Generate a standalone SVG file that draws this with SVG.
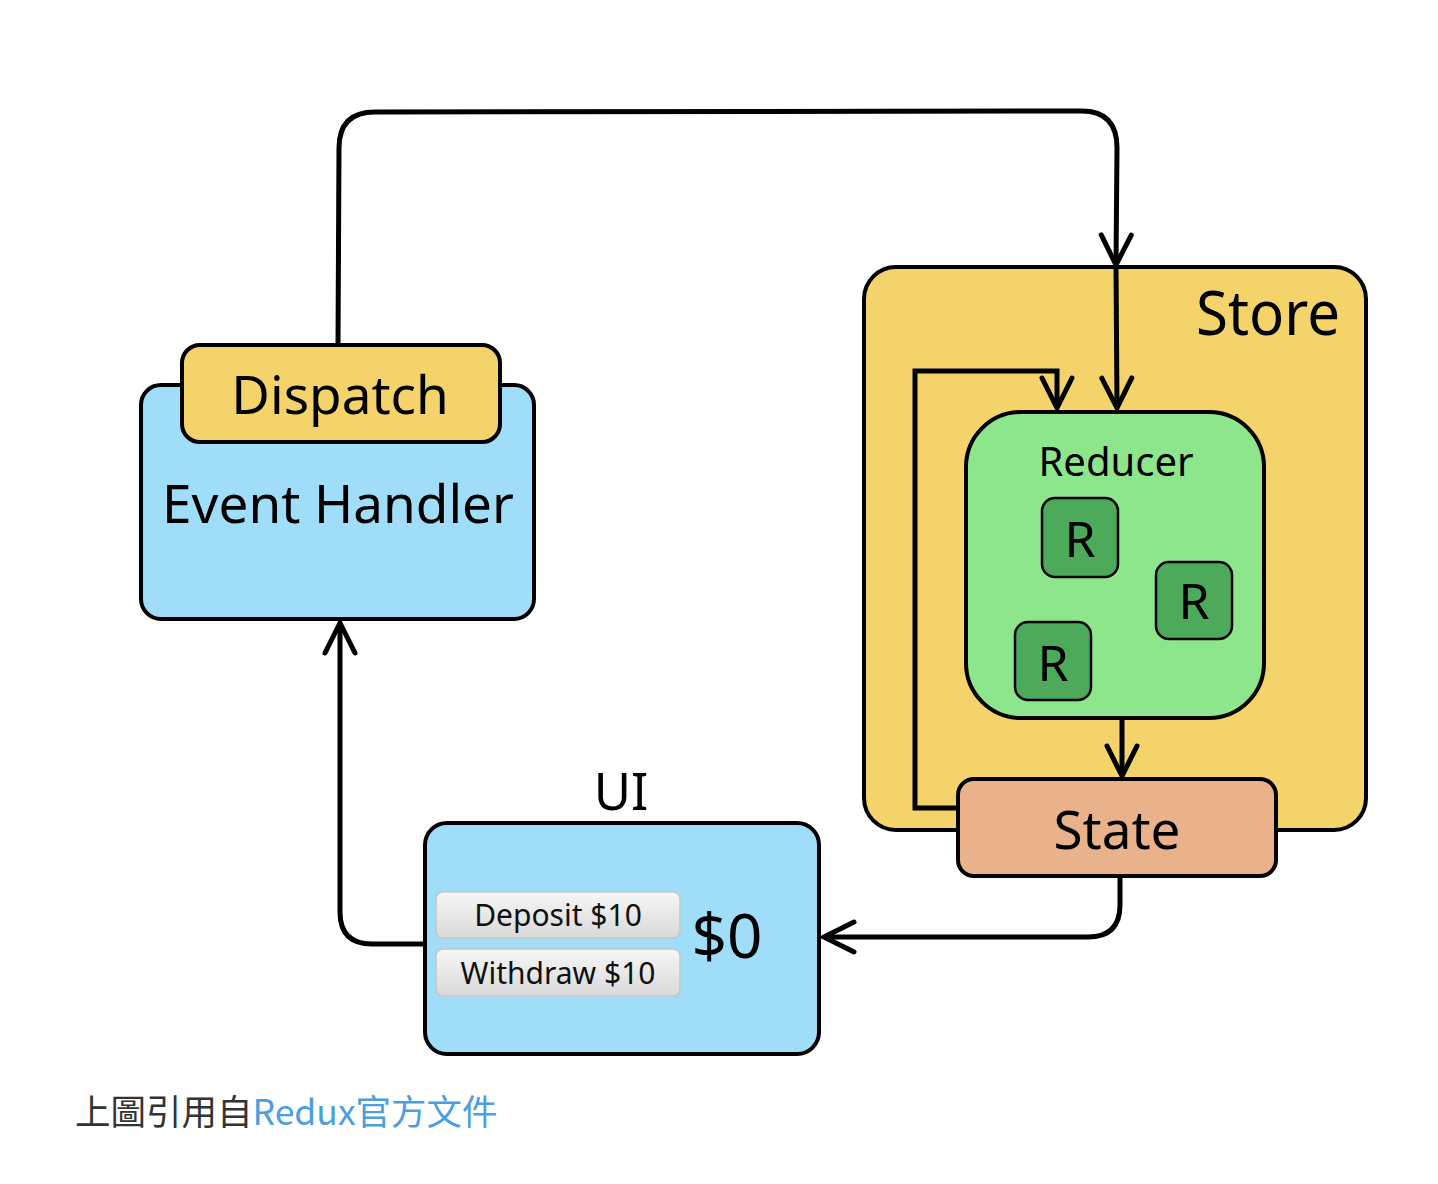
<svg xmlns="http://www.w3.org/2000/svg" width="1438" height="1184" viewBox="0 0 1438 1184">
<defs>
<style>
.box{stroke:#000;stroke-width:4}
.yellow{fill:#F4D36B}
.blue{fill:#A0DDF8}
.green{fill:#8EE68C}
.dgreen{fill:#4CAA5A;stroke:#000;stroke-width:2.5}
.state{fill:#EAB28A}
.lbl{font-family:"Noto Sans","Open Sans",sans-serif;fill:#000}
.rl{font-family:"Noto Sans","Open Sans",sans-serif;fill:#000;font-size:50px;text-anchor:middle}
.conn{fill:none;stroke:#000;stroke-width:5}
.btn{fill:url(#btnGrad);stroke:#c6c6c6;stroke-width:1.5}
.btntxt{font-family:"Noto Sans","Open Sans",sans-serif;font-size:30px;fill:#111;text-anchor:middle}
</style>
<linearGradient id="btnGrad" x1="0" y1="0" x2="0" y2="1">
<stop offset="0" stop-color="#f6f6f6"/>
<stop offset="1" stop-color="#d9d9d9"/>
</linearGradient>
<marker id="arrow" viewBox="-36 -20 44 40" refX="0" refY="0" markerWidth="44" markerHeight="40" markerUnits="userSpaceOnUse" orient="auto" overflow="visible">
<path d="M-30,-15 L0,0 L-30,15" fill="none" stroke="#000" stroke-width="5" stroke-linecap="round"/>
</marker>
</defs>
<rect width="1438" height="1184" fill="#fff"/>

<g id="store">
<rect class="box yellow" x="864" y="267" width="502" height="563" rx="32" stroke-width="3.5"/>
<text class="lbl" x="1196" y="335" font-size="62" textLength="144" lengthAdjust="spacingAndGlyphs">Store</text>
</g>

<g id="event-handler">
<rect class="box blue" x="141" y="385" width="393" height="234" rx="20"/>
<text class="lbl" x="338" y="523" font-size="53" text-anchor="middle">Event Handler</text>
</g>

<g id="dispatch">
<rect class="box yellow" x="182" y="345" width="318" height="97" rx="18"/>
<text class="lbl" x="340" y="414" font-size="53" text-anchor="middle">Dispatch</text>
</g>

<g id="reducer">
<rect class="box green" x="966" y="412" width="298" height="306" rx="55"/>
<text class="lbl" x="1116" y="476" font-size="40" text-anchor="middle">Reducer</text>
</g>

<g id="r1">
<rect class="dgreen" x="1042" y="498" width="76" height="79" rx="13"/>
<text class="rl" x="1080" y="557">R</text>
</g>
<g id="r2">
<rect class="dgreen" x="1156" y="562" width="76" height="77" rx="13"/>
<text class="rl" x="1194" y="619">R</text>
</g>
<g id="r3">
<rect class="dgreen" x="1015" y="622" width="76" height="78" rx="13"/>
<text class="rl" x="1053" y="681">R</text>
</g>

<g id="state">
<rect class="box state" x="958" y="779" width="318" height="97" rx="16"/>
<text class="lbl" x="1117" y="849" font-size="53" text-anchor="middle">State</text>
</g>

<g id="ui">
<text class="lbl" x="621" y="810" font-size="51" text-anchor="middle">UI</text>
<rect class="box blue" x="425" y="823" width="394" height="231" rx="22"/>
<rect class="btn" x="436" y="892" width="244" height="46" rx="7"/>
<text class="btntxt" x="558" y="926">Deposit $10</text>
<rect class="btn" x="436" y="949" width="244" height="47" rx="7"/>
<text class="btntxt" x="558" y="984">Withdraw $10</text>
<text class="lbl" x="727" y="958" font-size="62" text-anchor="middle">$0</text>
</g>

<g id="connectors">
<path class="conn" d="M338,345 L339,148 Q339,112 375,112 L1082,111 Q1117,111 1117,148 L1116,265" marker-end="url(#arrow)"/>
<path class="conn" d="M1116,265 L1117,408" marker-end="url(#arrow)"/>
<path class="conn" d="M958,808 L915,808 L915,371 L1057,371 L1057,408" marker-end="url(#arrow)"/>
<path class="conn" d="M1122,718 L1122,776" marker-end="url(#arrow)"/>
<path class="conn" d="M1120,876 L1120,905 Q1120,937 1088,937 L824,937" marker-end="url(#arrow)"/>
<path class="conn" d="M425,944 L372,944 Q340,944 340,912 L340,623" marker-end="url(#arrow)"/>
</g>

<g id="caption">
<text x="75" y="1125" font-size="35.5" font-family="'Noto Sans CJK TC','Noto Sans',sans-serif" fill="#333">上圖引用自<tspan fill="#4A9FE0">Redux官方文件</tspan></text>
</g>
</svg>
